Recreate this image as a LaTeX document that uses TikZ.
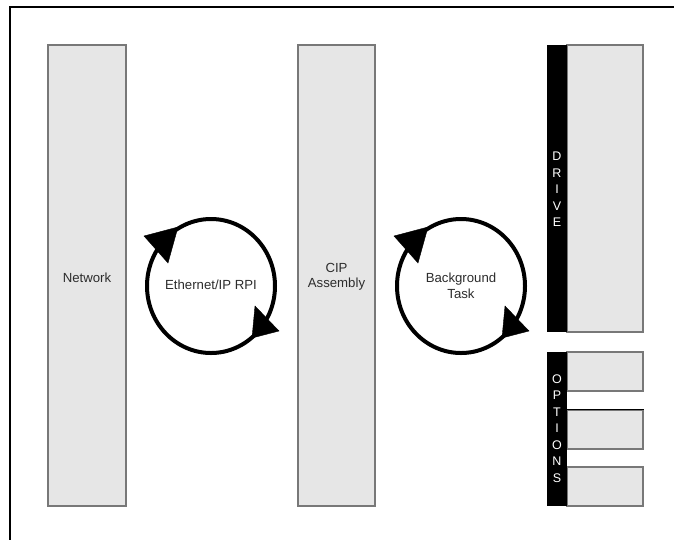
\documentclass[tikz,border=0pt]{standalone}
\usepackage{fontspec}
\setmainfont{Liberation Sans}
\definecolor{boxfill}{RGB}{230,230,230}
\definecolor{boxline}{RGB}{120,120,120}
\definecolor{txt}{RGB}{45,45,45}
\begin{document}
\begin{tikzpicture}[x=1pt,y=-1pt,
  panel/.style={draw=boxline,fill=boxfill,line width=1.6pt,inner sep=0pt},
  strip/.style={fill=black,draw=none,inner sep=0pt,minimum width=20pt},
  lbl/.style={text=txt,font=\fontsize{13.2}{15.5}\selectfont,align=center},
  vlbl/.style={text=white,font=\fontsize{12.5}{16.5}\selectfont,align=center,inner sep=0pt},
  ring/.style={line width=4pt,draw=black},
  head/.style={fill=black,draw=black,line join=miter}]
\useasboundingbox (0,0) rectangle (674,539);
\fill[white] (0,0) rectangle (674,539);
% frame
\draw[line width=1.5pt] (10,545) -- (10,7) -- (680,7);
% main panels
\node[panel,minimum width=78pt,minimum height=461pt] (net) at (87,275.5) {};
\node[lbl] (netl) at (87,278) {Network};
\node[panel,minimum width=77pt,minimum height=461pt] (cip) at (336.5,275.5) {};
\node[lbl] (cipl) at (336.5,277) {CIP\\Assembly};
% drive
\node[panel,minimum width=76pt,minimum height=287pt] (drv) at (605,188.5) {};
\node[strip,minimum height=287pt] (drvs) at (557,188.5) {};
\node[vlbl] (drvl) at (557,189.5) {D\\R\\I\\V\\E};
% options
\node[panel,minimum width=76pt,minimum height=39pt] (o1) at (605,371.5) {};
\node[panel,minimum width=76pt,minimum height=39pt] (o2) at (605,429.5) {};
\node[panel,minimum width=76pt,minimum height=39pt] (o3) at (605,486.5) {};
\draw[line width=1pt] (o2.north west) -- (o2.north east);
\node[strip,minimum height=154pt] (opts) at (557,429) {};
\node[vlbl] (optl) at (557,428.5) {O\\P\\T\\I\\O\\N\\S};
% ethernet cycle
\begin{scope}[shift={(211,286)}]
\draw[ring] (0,0) ellipse [x radius=64,y radius=67];
\fill[head] (-67,-50) -- (-33,-59) -- (-43,-23) -- cycle;
\fill[head] (44,20) -- (68,45) -- (41,52) -- cycle;
\end{scope}
\node[lbl] (c1l) at (211,285) {Ethernet/IP RPI};
% background cycle
\begin{scope}[shift={(461,286)}]
\draw[ring] (0,0) ellipse [x radius=64,y radius=67];
\fill[head] (-67,-50) -- (-33,-59) -- (-43,-23) -- cycle;
\fill[head] (44,20) -- (68,45) -- (41,52) -- cycle;
\end{scope}
\node[lbl] (c2l) at (461,286) {Background\\Task};
\end{tikzpicture}
\end{document}
